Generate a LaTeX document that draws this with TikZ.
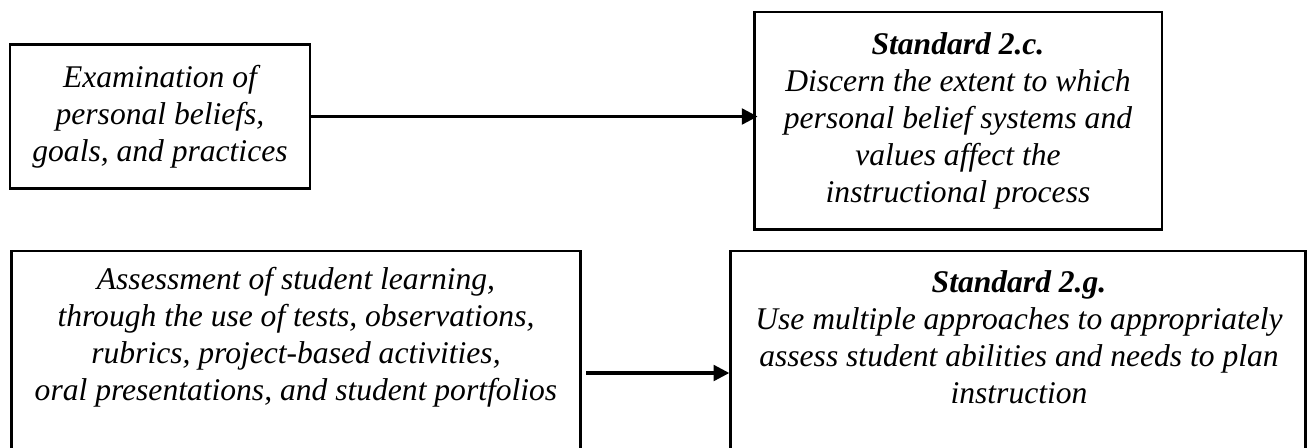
\documentclass[tikz,border=0pt]{standalone}
\usepackage{fontspec}
\setmainfont{Liberation Serif}
\usetikzlibrary{arrows.meta,calc}
\begin{document}
\begin{tikzpicture}[x=0.38pt,y=-0.38pt,
  box/.style={draw,line width=1.1pt,inner sep=0pt,align=center,
    font=\itshape\fontsize{12}{14.06}\selectfont},
  txt/.style={align=center,inner sep=0pt,
    font=\itshape\fontsize{12}{14.06}\selectfont},
  conn/.style={line width=1.15pt,-{Triangle[length=6pt,width=6pt]}}]
\useasboundingbox (0,0) rectangle (1308,447);
\clip (0,0) rectangle (1308,447);
\node[box,minimum width=114pt,minimum height=55pt] (b1) at (160,116.5)
  {Examination of\\personal beliefs,\\goals, and practices};
\node[box,minimum width=155pt,minimum height=82.5pt] (b2) at (958,120.5)
  {\textbf{Standard 2.c.}\\Discern the extent to which\\personal belief systems and\\values affect the\\instructional process};
\node[box,minimum width=216.4pt,minimum height=87pt] (b3) at (296,365.5) {};
\node[box,minimum width=218.3pt,minimum height=87pt] (b4) at (1018,365.5) {};
\node[txt] (t3) at (296,337.5)
  {Assessment of student learning,\\through the use of tests, observations,\\rubrics, project-based activities,\\oral presentations, and student portfolios};
\node[txt] (t4) at (1019,337.5)
  {\textbf{Standard 2.g.}\\Use multiple approaches to appropriately\\assess student abilities and needs to plan\\instruction};
\coordinate (a2) at (0,373);
\draw[conn] (b1.east) -- ($(b1.east -| b2.west)+(5,0)$);
\draw[conn] ($(b3.east |- a2)+(4,0)$) -- (b4.west |- a2);
\end{tikzpicture}
\end{document}
